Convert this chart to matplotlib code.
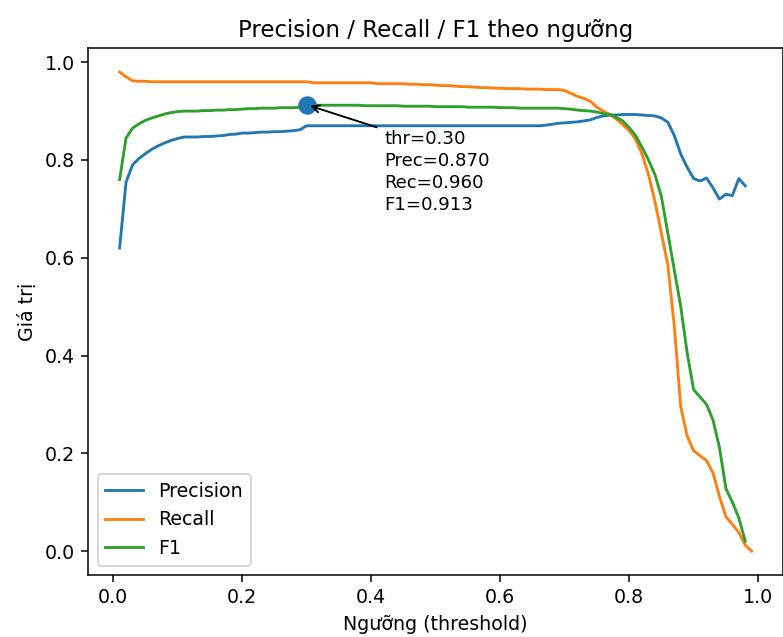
import numpy as np
import matplotlib
matplotlib.use("Agg")
import matplotlib.pyplot as plt

# nguong 0.01 .. 0.99
thresholds = np.round(np.arange(1, 100) / 100, 2)

precision = [
    0.620, 0.755, 0.790, 0.803, 0.813, 0.822, 0.829, 0.835, 0.840, 0.844,
    0.847, 0.847, 0.847, 0.848, 0.848, 0.849, 0.850, 0.852, 0.853, 0.855,
    0.855, 0.856, 0.857, 0.857, 0.858, 0.858, 0.859, 0.860, 0.862, 0.870,
    0.870, 0.870, 0.870, 0.870, 0.870, 0.870, 0.870, 0.870, 0.870, 0.870,
    0.870, 0.870, 0.870, 0.870, 0.870, 0.870, 0.870, 0.870, 0.870, 0.870,
    0.870, 0.870, 0.870, 0.870, 0.870, 0.870, 0.870, 0.870, 0.870, 0.870,
    0.870, 0.870, 0.870, 0.870, 0.870, 0.870, 0.871, 0.873, 0.875, 0.876,
    0.877, 0.878, 0.880, 0.882, 0.887, 0.890, 0.892, 0.892, 0.893, 0.893,
    0.893, 0.892, 0.891, 0.890, 0.886, 0.877, 0.850, 0.812, 0.785, 0.762,
    0.757, 0.763, 0.743, 0.720, 0.730, 0.727, 0.762, 0.747, np.nan,
]

recall = [
    0.980, 0.970, 0.962, 0.961, 0.961, 0.960, 0.960, 0.960, 0.960, 0.960,
    0.960, 0.960, 0.960, 0.960, 0.960, 0.960, 0.960, 0.960, 0.960, 0.960,
    0.960, 0.960, 0.960, 0.960, 0.960, 0.960, 0.960, 0.960, 0.960, 0.960,
    0.958, 0.958, 0.958, 0.958, 0.958, 0.958, 0.958, 0.958, 0.958, 0.958,
    0.956, 0.956, 0.956, 0.956, 0.956, 0.955, 0.955, 0.954, 0.954, 0.953,
    0.952, 0.952, 0.951, 0.950, 0.950, 0.949, 0.948, 0.948, 0.947, 0.947,
    0.946, 0.946, 0.946, 0.945, 0.945, 0.945, 0.944, 0.944, 0.944, 0.942,
    0.936, 0.930, 0.926, 0.920, 0.908, 0.900, 0.893, 0.884, 0.872, 0.860,
    0.842, 0.812, 0.770, 0.715, 0.650, 0.585, 0.460, 0.295, 0.235, 0.205,
    0.195, 0.185, 0.160, 0.112, 0.070, 0.055, 0.038, 0.012, 0.000,
]

f1 = [
    0.760, 0.845, 0.865, 0.874, 0.881, 0.886, 0.890, 0.894, 0.897, 0.899,
    0.900, 0.900, 0.900, 0.901, 0.901, 0.902, 0.902, 0.903, 0.903, 0.904,
    0.905, 0.905, 0.906, 0.906, 0.906, 0.907, 0.907, 0.907, 0.908, 0.913,
    0.912, 0.912, 0.912, 0.912, 0.912, 0.912, 0.912, 0.912, 0.911, 0.911,
    0.911, 0.911, 0.911, 0.911, 0.910, 0.910, 0.910, 0.910, 0.910, 0.909,
    0.909, 0.909, 0.909, 0.909, 0.908, 0.908, 0.908, 0.908, 0.908, 0.907,
    0.907, 0.907, 0.906, 0.906, 0.906, 0.906, 0.906, 0.906, 0.906, 0.905,
    0.904, 0.902, 0.901, 0.900, 0.898, 0.895, 0.893, 0.887, 0.880, 0.866,
    0.850, 0.826, 0.800, 0.770, 0.725, 0.650, 0.575, 0.500, 0.405, 0.330,
    0.315, 0.300, 0.268, 0.212, 0.128, 0.100, 0.068, 0.020, np.nan,
]

best_thr = 0.30
best_prec = 0.870
best_rec = 0.960
best_f1 = 0.913

fig = plt.figure(figsize=(783 / 137, 637 / 137), dpi=137)
ax = fig.add_axes([0.1124, 0.0973, 0.888, 0.8273])

ax.plot(thresholds, precision, label="Precision")
ax.plot(thresholds, recall, label="Recall")
ax.plot(thresholds, f1, label="F1")

ax.scatter([best_thr], [best_f1], s=75, color="C0", zorder=3)
ax.annotate(
    f"thr={best_thr:.2f}\nPrec={best_prec:.3f}\nRec={best_rec:.3f}\nF1={best_f1:.3f}",
    xy=(best_thr, best_f1), xytext=(0.42, 0.862), va="top",
    fontsize=9.5, linespacing=1.3,
    arrowprops=dict(arrowstyle="->", color="black", lw=1, relpos=(0, 1)),
)

ax.set_title("Precision / Recall / F1 theo ngưỡng")
ax.set_xlabel("Ngưỡng (threshold)")
ax.set_ylabel("Giá trị")
ax.legend(loc="lower left")

fig.savefig("out.png", dpi=137)
